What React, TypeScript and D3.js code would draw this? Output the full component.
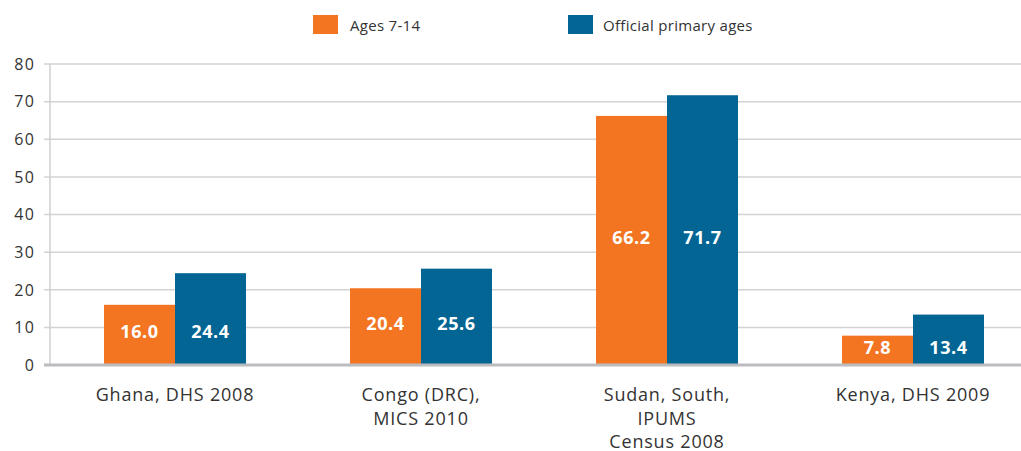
import React from "react";
import * as d3 from "d3";

const categories = [
  ["Ghana, DHS 2008"],
  ["Congo (DRC),", "MICS 2010"],
  ["Sudan, South,", "IPUMS", "Census 2008"],
  ["Kenya, DHS 2009"],
];
const seriesNames = ["Ages 7-14", "Official primary ages"];
const ages714 = [16.0, 20.4, 66.2, 7.8];
const officialPrimary = [24.4, 25.6, 71.7, 13.4];
const yTicks = [0, 10, 20, 30, 40, 50, 60, 70, 80];

const COLORS = ["#F37421", "#026594"];
const FONT = "'Open Sans', sans-serif";

export default function App() {
  const W = 1021, H = 451;
  const keys = categories.map((c) => c.join(" "));
  const x = d3.scaleBand<string>().domain(keys).range([52, 1036]).paddingInner(0.4228).paddingOuter(0.2114);
  const x1 = d3.scaleBand<number>().domain([0, 1]).range([0, x.bandwidth()]);
  const y = d3.scaleLinear().domain([0, 80]).range([365, 64]);
  const series = [ages714, officialPrimary];

  return (
    <svg width={W} height={H} style={{ position: "absolute", left: 0, top: 0, background: "#fff" }} fontFamily={FONT}>
      {/* legend */}
      <g>
        <rect x={313} y={15} width={25} height={19} fill={COLORS[0]} />
        <text x={350} y={30.5} fontSize={15} letterSpacing={0.3} fill="#333">{seriesNames[0]}</text>
        <rect x={568} y={15} width={25} height={19} fill={COLORS[1]} />
        <text x={603} y={30.5} fontSize={15} letterSpacing={0.3} fill="#333">{seriesNames[1]}</text>
      </g>
      {/* grid */}
      {yTicks.filter((t) => t > 0).map((t) => (
        <line key={t} x1={44} x2={W} y1={y(t)} y2={y(t)} stroke="#d3d3d3" strokeWidth={1.5} />
      ))}
      <line x1={50} x2={50} y1={y(80)} y2={y(0)} stroke="#cfcfcf" strokeWidth={1.5} />
      {yTicks.map((t) => (
        <text key={t} x={35} y={y(t)} dy="0.36em" textAnchor="end" fontSize={16} letterSpacing={1.2} fill="#333">{t}</text>
      ))}
      {/* bars */}
      {keys.map((k, i) => (
        <g key={k} transform={`translate(${x(k)},0)`}>
          {series.map((s, j) => (
            <rect key={j} x={x1(j)} y={y(s[i])} width={x1.bandwidth()} height={y(0) - y(s[i])} fill={COLORS[j]} />
          ))}
          {series.map((s, j) => (
            <text key={"t" + j} x={(x1(j) as number) + x1.bandwidth() / 2} y={(y(ages714[i]) + y(0)) / 2 - 3} dy="0.36em"
              textAnchor="middle" fontSize={18} fontWeight={700} letterSpacing={0.6} fill="#fff">{s[i].toFixed(1)}</text>
          ))}
          {categories[i].map((line, li) => (
            <text key={"c" + li} x={x.bandwidth() / 2} y={401 + li * 23.5} textAnchor="middle" fontSize={18} letterSpacing={0.8} fill="#333">{line}</text>
          ))}
        </g>
      ))}
      <line x1={44} x2={W} y1={y(0)} y2={y(0)} stroke="#bcbcc0" strokeWidth={3} />
    </svg>
  );
}
